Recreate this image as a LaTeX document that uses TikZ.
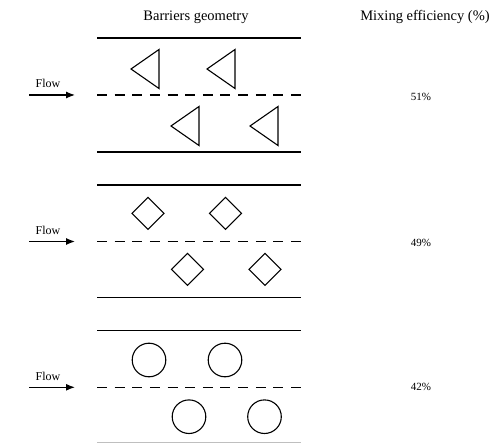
\documentclass[tikz,border=0pt]{standalone}
\usepackage{fontspec}
\setmainfont{Liberation Serif}
\usetikzlibrary{arrows.meta}
\begin{document}
\begin{tikzpicture}[x=1pt,y=-1pt,
  wall/.style={line width=1.3pt},
  midline/.style={line width=1.3pt,dash pattern=on 10pt off 7.64pt},
  barrier/.style={line width=1.1pt},
  flowarrow/.style={line width=1.2pt,-{Latex[length=9pt,width=7pt]}},
  head/.style={font=\fontsize{14.5}{16}\selectfont},
  flowtxt/.style={font=\fontsize{12}{14}\selectfont},
  pct/.style={font=\fontsize{11}{13}\selectfont}]
\useasboundingbox (0,0) rectangle (497,443);
\node[head] (h1) at (196,17) {Barriers geometry};
\node[head] (h2) at (425,17) {Mixing efficiency (\%)};
% ---------- panel 1: triangles
\coordinate (t1a) at (97,38); \coordinate (t1b) at (301,38);
\coordinate (m1a) at (97,95); \coordinate (m1b) at (301,95);
\coordinate (b1a) at (97,152); \coordinate (b1b) at (301,152);
\draw[wall] (t1a) -- (t1b);
\draw[midline] (m1a) -- (m1b);
\draw[wall] (b1a) -- (b1b);
\foreach \x/\y in {131/69,207/69,171/126,250/126}{
  \draw[barrier,line join=miter] (\x,\y) -- (\x+28,\y-19.5) -- (\x+28,\y+19.5) -- cycle;
}
\node[flowtxt] (f1) at (48,83) {Flow};
\coordinate (a1s) at (29,95); \coordinate (a1e) at (75,95);
\draw[flowarrow] (a1s) -- (a1e);
\node[pct] (p1) at (421,97) {51\%};
% ---------- panel 2: diamonds
\coordinate (t2a) at (97,185); \coordinate (t2b) at (301,185);
\coordinate (m2a) at (97,241.5); \coordinate (m2b) at (301,241.5);
\coordinate (b2a) at (97,297.5); \coordinate (b2b) at (301,297.5);
\draw[wall] (t2a) -- (t2b);
\draw[midline] (m2a) -- (m2b);
\draw[wall] (b2a) -- (b2b);
\foreach \x/\y in {148/213.3,225.5/213.3,187.5/269.3,265/269.3}{
  \draw[barrier] (\x-16,\y) -- (\x,\y-16) -- (\x+16,\y) -- (\x,\y+16) -- cycle;
}
\node[flowtxt] (f2) at (48,230) {Flow};
\coordinate (a2s) at (29,241.5); \coordinate (a2e) at (75,241.5);
\draw[flowarrow] (a2s) -- (a2e);
\node[pct] (p2) at (421,243) {49\%};
% ---------- panel 3: circles
\coordinate (t3a) at (97,330.7); \coordinate (t3b) at (301,330.7);
\coordinate (m3a) at (97,387.3); \coordinate (m3b) at (301,387.3);
\coordinate (b3a) at (97,442.3); \coordinate (b3b) at (301,442.3);
\draw[wall] (t3a) -- (t3b);
\draw[midline] (m3a) -- (m3b);
\draw[line width=1pt,black!25] (b3a) -- (b3b);
\foreach \x/\y in {149/360,225/360,189/416.7,264.5/416.7}{
  \draw[barrier] (\x,\y) circle[radius=16.8];
}
\node[flowtxt] (f3) at (48,376) {Flow};
\coordinate (a3s) at (29,387.3); \coordinate (a3e) at (75,387.3);
\draw[flowarrow] (a3s) -- (a3e);
\node[pct] (p3) at (421,387) {42\%};
\end{tikzpicture}
\end{document}
